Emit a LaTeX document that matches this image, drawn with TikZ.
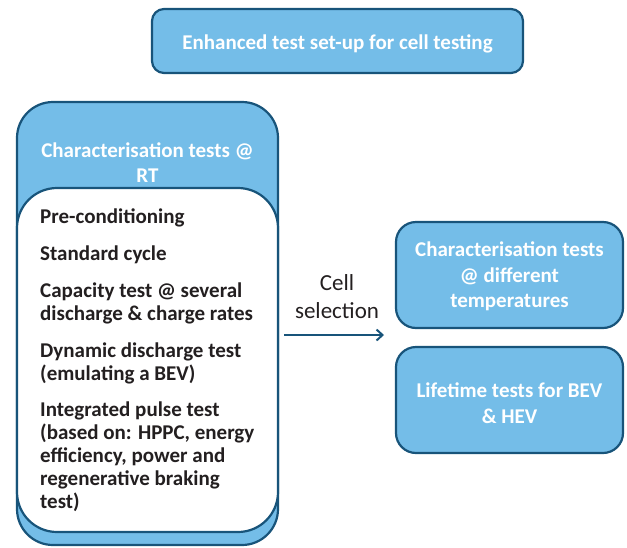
\documentclass[tikz,border=0pt]{standalone}
\usepackage{fontspec}
\setmainfont{Carlito}
\usetikzlibrary{arrows.meta}
\definecolor{boxblue}{RGB}{116,189,232}
\definecolor{edgeblue}{RGB}{24,84,122}
\definecolor{txt}{RGB}{35,31,32}
\begin{document}
\begin{tikzpicture}[x=1pt,y=-1pt,
  bluebox/.style={draw=edgeblue,line width=2.2pt,fill=boxblue},
  wtext/.style={text=white,font=\fontsize{21}{25.5}\selectfont\bfseries,align=center,inner sep=0pt},
  itemtext/.style={text=txt,font=\fontsize{21}{23}\selectfont\bfseries,align=left,anchor=west,inner sep=0pt}]
\useasboundingbox (0,0) rectangle (627,547);
% top box
\draw[bluebox,rounded corners=12pt] (152,9) rectangle (523,73);
\node[wtext] (top) at (337.5,44) {Enhanced test set-up for cell testing};
% left big box
\draw[bluebox,rounded corners=36pt] (17,102) rectangle (278,545);
\draw[draw=edgeblue,line width=2.2pt,fill=white,rounded corners=40pt] (17,188) rectangle (278,532);
\node[wtext] (rt) at (147.5,162.5) {Characterisation tests @\\RT};
\node[itemtext] (i1) at (40,218) {Pre-conditioning};
\node[itemtext] (i2) at (40,255) {Standard cycle};
\node[itemtext] (i3) at (40,303) {Capacity test @ several\\discharge \& charge rates};
\node[itemtext] (i4) at (40,363.5) {Dynamic discharge test\\(emulating a BEV)};
\node[itemtext] (i5) at (40,456.5) {Integrated pulse test\\(based on: HPPC, energy\\efficiency, power and\\regenerative braking\\test)};
% right boxes
\draw[bluebox,rounded corners=20pt] (396,222) rectangle (623,328);
\node[wtext] (r1) at (509.5,276.5) {Characterisation tests\\@ different\\temperatures};
\draw[bluebox,rounded corners=20pt] (396,347) rectangle (623,453);
\node[wtext] (r2) at (509.5,403) {Lifetime tests for BEV\\\& HEV};
% arrow
\coordinate (a0) at (284,335);
\coordinate (a1) at (384,335);
\draw[draw=edgeblue,line width=2pt,-{Straight Barb[length=6pt,width=11pt,line width=2pt]}] (a0) -- (a1);
\node[text=txt,font=\fontsize{23}{28}\selectfont,align=center,inner sep=0pt] (cs) at (337,297) {Cell\\selection};
\end{tikzpicture}
\end{document}
